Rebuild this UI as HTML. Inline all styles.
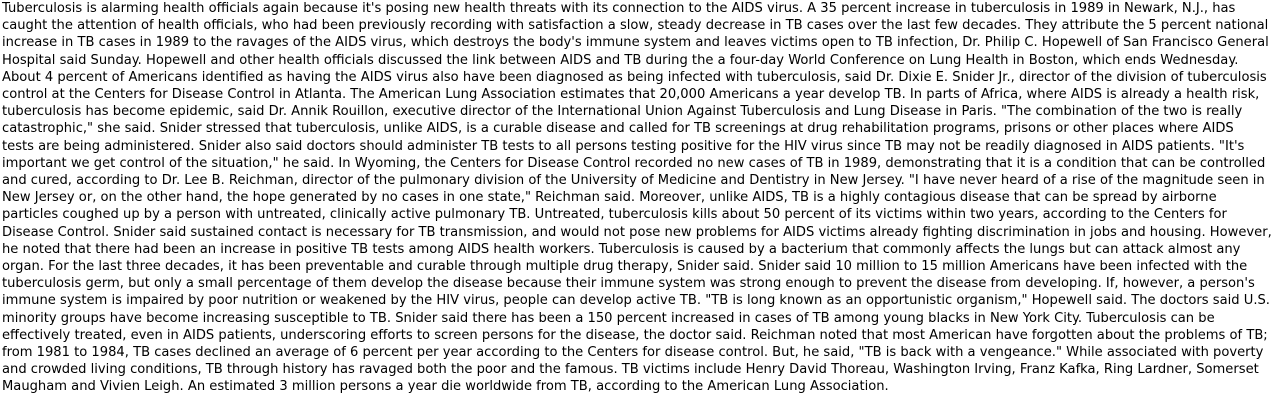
<!DOCTYPE html>
<html><head><meta charset="utf-8"><style>
html,body{margin:0;padding:0;background:#fff;width:1280px;height:408px;overflow:hidden}
#article{position:absolute;left:2px;top:0px;font-family:"DejaVu Sans","Liberation Sans",sans-serif;font-size:13.1px;line-height:17.2px;color:#000;white-space:nowrap}
</style></head><body>
<div id="article">
Tuberculosis is alarming health officials again because it's posing new health threats with its connection to the AIDS virus. A 35 percent increase in tuberculosis in 1989 in Newark, N.J., has<br>
caught the attention of health officials, who had been previously recording with satisfaction a slow, steady decrease in TB cases over the last few decades. They attribute the 5 percent national<br>
increase in TB cases in 1989 to the ravages of the AIDS virus, which destroys the body's immune system and leaves victims open to TB infection, Dr. Philip C. Hopewell of San Francisco General<br>
Hospital said Sunday. Hopewell and other health officials discussed the link between AIDS and TB during the a four-day World Conference on Lung Health in Boston, which ends Wednesday.<br>
About 4 percent of Americans identified as having the AIDS virus also have been diagnosed as being infected with tuberculosis, said Dr. Dixie E. Snider Jr., director of the division of tuberculosis<br>
control at the Centers for Disease Control in Atlanta. The American Lung Association estimates that 20,000 Americans a year develop TB. In parts of Africa, where AIDS is already a health risk,<br>
tuberculosis has become epidemic, said Dr. Annik Rouillon, executive director of the International Union Against Tuberculosis and Lung Disease in Paris. "The combination of the two is really<br>
catastrophic," she said. Snider stressed that tuberculosis, unlike AIDS, is a curable disease and called for TB screenings at drug rehabilitation programs, prisons or other places where AIDS<br>
tests are being administered. Snider also said doctors should administer TB tests to all persons testing positive for the HIV virus since TB may not be readily diagnosed in AIDS patients. "It's<br>
important we get control of the situation," he said. In Wyoming, the Centers for Disease Control recorded no new cases of TB in 1989, demonstrating that it is a condition that can be controlled<br>
and cured, according to Dr. Lee B. Reichman, director of the pulmonary division of the University of Medicine and Dentistry in New Jersey. "I have never heard of a rise of the magnitude seen in<br>
New Jersey or, on the other hand, the hope generated by no cases in one state," Reichman said. Moreover, unlike AIDS, TB is a highly contagious disease that can be spread by airborne<br>
particles coughed up by a person with untreated, clinically active pulmonary TB. Untreated, tuberculosis kills about 50 percent of its victims within two years, according to the Centers for<br>
Disease Control. Snider said sustained contact is necessary for TB transmission, and would not pose new problems for AIDS victims already fighting discrimination in jobs and housing. However,<br>
he noted that there had been an increase in positive TB tests among AIDS health workers. Tuberculosis is caused by a bacterium that commonly affects the lungs but can attack almost any<br>
organ. For the last three decades, it has been preventable and curable through multiple drug therapy, Snider said. Snider said 10 million to 15 million Americans have been infected with the<br>
tuberculosis germ, but only a small percentage of them develop the disease because their immune system was strong enough to prevent the disease from developing. If, however, a person's<br>
immune system is impaired by poor nutrition or weakened by the HIV virus, people can develop active TB. "TB is long known as an opportunistic organism," Hopewell said. The doctors said U.S.<br>
minority groups have become increasing susceptible to TB. Snider said there has been a 150 percent increased in cases of TB among young blacks in New York City. Tuberculosis can be<br>
effectively treated, even in AIDS patients, underscoring efforts to screen persons for the disease, the doctor said. Reichman noted that most American have forgotten about the problems of TB;<br>
from 1981 to 1984, TB cases declined an average of 6 percent per year according to the Centers for disease control. But, he said, "TB is back with a vengeance." While associated with poverty<br>
and crowded living conditions, TB through history has ravaged both the poor and the famous. TB victims include Henry David Thoreau, Washington Irving, Franz Kafka, Ring Lardner, Somerset<br>
Maugham and Vivien Leigh. An estimated 3 million persons a year die worldwide from TB, according to the American Lung Association.
</div>
</body></html>
